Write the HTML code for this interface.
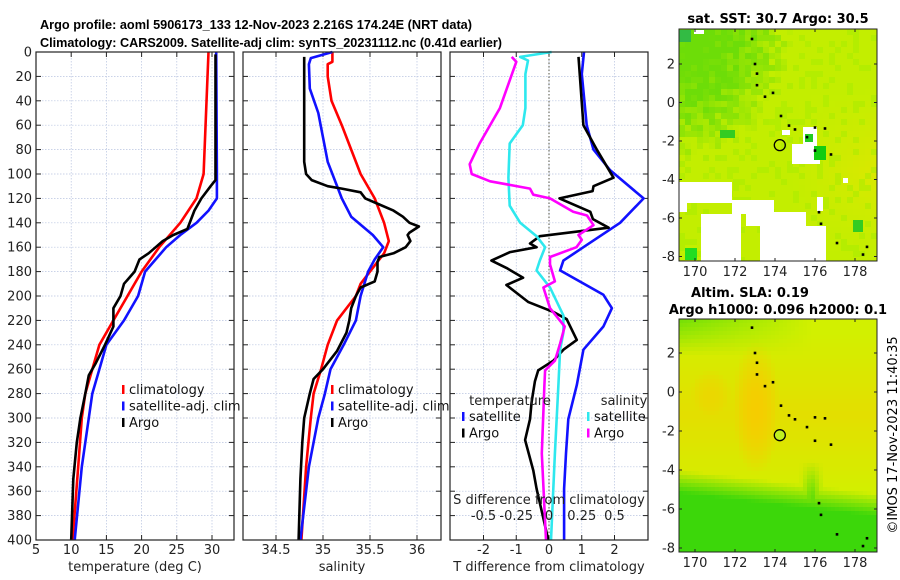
<!DOCTYPE html>
<html><head><meta charset="utf-8"><style>
body{margin:0;background:#fff;}
svg{display:block;font-family:"DejaVu Sans","Liberation Sans",sans-serif;}
</style></head><body>
<svg id="fig" width="900" height="580" viewBox="0 0 900 580" xmlns="http://www.w3.org/2000/svg">
<rect width="900" height="580" fill="#fff"/>
<text x="40" y="29" font-size="13" font-weight="bold" font-family="Liberation Sans, sans-serif" textLength="432" lengthAdjust="spacingAndGlyphs">Argo profile: aoml 5906173_133 12-Nov-2023 2.216S 174.24E (NRT data)</text>
<text x="40" y="47" font-size="13" font-weight="bold" font-family="Liberation Sans, sans-serif" textLength="462" lengthAdjust="spacingAndGlyphs">Climatology: CARS2009. Satellite-adj clim: synTS_20231112.nc (0.41d earlier)</text>
<g id="g1"></g>
<g id="g2"></g>
<g id="g3"></g>
<g id="m1"></g>
<g id="m2"></g>
<text x="778" y="23" font-size="13" font-weight="bold" text-anchor="middle">sat. SST: 30.7 Argo: 30.5</text>
<text x="750" y="297" font-size="13" font-weight="bold" text-anchor="middle">Altim. SLA: 0.19</text>
<text x="778" y="314" font-size="13" font-weight="bold" text-anchor="middle">Argo h1000: 0.096 h2000: 0.1</text>
<text transform="translate(897,435) rotate(-90)" font-size="13" text-anchor="middle">©IMOS 17-Nov-2023 11:40:35</text>
</svg>
<script>
// ---- data ----
const climTdepth=[0,100,120,140,160,180,200,220,240,260,280,300,340,400];
const climT=[29.5,28.8,27.8,25.5,22.5,20,18,16,14,13,12,11.5,11,10.2];
const satTdepth=[0,100,120,130,140,150,160,180,200,220,240,260,280,300,340,400];
const satT=[30.6,30.7,30.7,29.5,27.8,25.5,23.5,20.5,19.5,17.5,15,14,13,12.5,11.5,10.5];
const argoTdepth=[2,105,110,120,130,145,150,155,160,165,170,180,190,200,210,225,240,255,265,280,300,320,350,400];
const argoT=[30.5,30.5,29.8,28.5,27.5,26.5,24.5,23,22,21,19.7,19,17.5,17,16,16,14.8,13.5,12.5,12,11.3,10.8,10.3,10.0];

const climSdepth=[0,8,10,20,40,60,80,100,120,140,155,165,180,190,200,220,240,260,280,300,340,400];
const climS=[35.1,35.1,35.05,35.05,35.09,35.2,35.3,35.4,35.55,35.65,35.7,35.65,35.5,35.4,35.35,35.15,35.05,34.98,34.9,34.87,34.82,34.77];
const satSdepth=[0,5,10,30,50,70,90,120,135,150,160,170,180,200,220,240,260,280,300,340,400];
const satS=[35.1,34.87,34.85,34.86,34.95,35.0,35.05,35.2,35.3,35.53,35.64,35.55,35.48,35.4,35.35,35.22,35.08,35.02,34.95,34.85,34.76];
const argoSdepth=[4,20,90,100,105,110,112,115,120,125,130,135,140,143,148,150,155,160,165,168,172,180,188,193,200,210,220,230,245,260,268,280,300,320,350,400];
const argoS=[34.8,34.8,34.8,34.82,34.88,35.05,35.2,35.4,35.45,35.6,35.75,35.85,35.92,36.02,35.92,35.9,35.93,35.88,35.75,35.6,35.58,35.58,35.55,35.4,35.35,35.3,35.28,35.25,35.15,35.0,34.9,34.86,34.8,34.78,34.76,34.74];

const dTsatDepth=[0,18,60,80,97,120,140,160,171,179,199,210,225,244,273,301,329,358,400];
const dTsat=[1.07,1.0,1.15,1.36,1.87,2.89,2.17,1.05,0.44,0.34,1.66,1.92,1.66,1.05,0.85,0.59,0.52,0.46,0.46];
const dTargoDepth=[4,60,80,103,110,114,120,131,137,144,151,157,160,164,171,177,185,191,205,213,219,230,236,244,253,261,270,287,301,318,343,358,400];
const dTargo=[0.9,1.05,1.46,1.97,1.36,1.33,0.32,1.26,1.34,1.82,-0.28,-0.58,-0.38,-1.19,-1.76,-1.3,-0.79,-1.3,-0.63,0.13,0.54,0.74,0.85,0.44,0.13,-0.33,-0.43,-0.53,-0.58,-0.73,-0.48,-0.38,-0.02];
const dSsatDepth=[0,4,7,18,46,60,75,103,126,140,151,160,171,179,193,216,230,244,273,329,400];
const dSsat=[0.02,-0.22,-0.16,-0.18,-0.18,-0.2,-0.3,-0.31,-0.3,-0.22,-0.095,-0.03,-0.07,-0.095,0.008,0.11,0.11,0.085,0.072,0.045,0.015];
const dSargoDepth=[4,8,46,75,92,100,106,112,117,120,131,134,142,150,154,160,168,174,188,193,210,225,239,253,261,273,329,400];
const dSargo=[-0.285,-0.25,-0.375,-0.53,-0.605,-0.59,-0.45,-0.145,-0.12,0.008,0.185,0.29,0.34,0.225,0.25,0.21,0.008,0.008,0.045,-0.043,0.008,0.12,0.085,0.045,-0.03,-0.035,-0.055,-0.023];

const depthTicks=[0,20,40,60,80,100,120,140,160,180,200,220,240,260,280,300,320,340,360,380,400];
const tempTicks=[5,10,15,20,25,30];
const salTicks=[34.5,35,35.5,36];
const dTTicks=[-2,-1,0,1,2];
const dSTicks=[-0.5,-0.25,0,0.25,0.5];
const lonTicks=[170,172,174,176,178];
const latTicks=[2,0,-2,-4,-6,-8];
const floatLon=174.24, floatLat=-2.216;

// ---- helpers ----
const NS='http://www.w3.org/2000/svg';
function mk(parent,tag,attrs){const e=document.createElementNS(NS,tag);for(const k in attrs)e.setAttribute(k,attrs[k]);parent.appendChild(e);return e;}
const Y0=52,Y1=540;
const yD=d=>Y0+(d/400)*(Y1-Y0);
function lin(d0,d1,r0,r1){return v=>r0+(v-d0)/(d1-d0)*(r1-r0);}
const cl=(v,a,b)=>Math.max(a,Math.min(b,v));

function panel(g,x0,x1,xs,ticks,fmt,showDepth){
  mk(g,'rect',{x:x0,y:Y0,width:x1-x0,height:Y1-Y0,fill:'#fff'});
  for(const d of depthTicks){const l=mk(g,'line',{x1:x0,x2:x1,y1:yD(d),y2:yD(d),stroke:'#b8c4e0','stroke-width':0.7,'stroke-dasharray':'1.5,1.5'});
    
    mk(g,'line',{x1:x0,x2:x0+5,y1:yD(d),y2:yD(d),stroke:'#222'});mk(g,'line',{x1:x1-5,x2:x1,y1:yD(d),y2:yD(d),stroke:'#222'});
    if(showDepth){const t=mk(g,'text',{x:x0-4,y:yD(d)+4.5,'font-size':13,'text-anchor':'end',fill:'#222'});t.textContent=d;
      }}
  for(const v of ticks){const x=xs(v);
    const l=mk(g,'line',{x1:x,x2:x,y1:Y0,y2:Y1,stroke:'#b8c4e0','stroke-width':0.7,'stroke-dasharray':'1.5,1.5'});
    
    mk(g,'line',{x1:x,x2:x,y1:Y1,y2:Y1-5,stroke:'#222'});mk(g,'line',{x1:x,x2:x,y1:Y0,y2:Y0+5,stroke:'#222'});
    const t=mk(g,'text',{x:x,y:554,'font-size':13,'text-anchor':'middle',fill:'#222'});t.textContent=fmt(v);
    }
}
function frame(g,x0,x1){mk(g,'rect',{x:x0,y:Y0,width:x1-x0,height:Y1-Y0,fill:'none',stroke:'#222','stroke-width':1.2});}
function series(g,xs,depths,vals,color,name){
  const pts=depths.map((d,i)=>xs(vals[i]).toFixed(1)+','+yD(d).toFixed(1)).join(' ');
  const p=mk(g,'polyline',{points:pts,fill:'none',stroke:color,'stroke-width':2.6,'stroke-linejoin':'round'});
  }
function legend(g,x,y,items){items.forEach((it,i)=>{const yy=y+i*16.5;
  mk(g,'rect',{x:x,y:yy-9,width:2.5,height:9,fill:it[1]});
  const t=mk(g,'text',{x:x+7,y:yy,'font-size':13,fill:'#111'});t.textContent=it[0];
  });}
function label(g,x,y,s,name){const t=mk(g,'text',{x:x,y:y,'font-size':13,'text-anchor':'middle',fill:'#222'});t.textContent=s;
  }

// ---- panel 1: temperature ----
const g1=document.getElementById('g1');
const xT=lin(5,30,36,212);
panel(g1,36,234,xT,tempTicks,v=>v,true);
series(g1,xT,climTdepth,climT,'#f00','climatology-temp-line');
series(g1,xT,satTdepth,satT,'#11f','satellite-temp-line');
series(g1,xT,argoTdepth,argoT,'#000','argo-temp-line');
frame(g1,36,234);
legend(g1,122,394,[['climatology','#f00'],['satellite-adj. clim','#11f'],['Argo','#000']]);
label(g1,135,571,'temperature (deg C)','x-axis-title-temperature');

// ---- panel 2: salinity ----
const g2=document.getElementById('g2');
const xS=lin(34.5,36,276,417);
panel(g2,243,441,xS,salTicks,v=>v,false);
series(g2,xS,climSdepth,climS,'#f00','climatology-salinity-line');
series(g2,xS,satSdepth,satS,'#11f','satellite-salinity-line');
series(g2,xS,argoSdepth,argoS,'#000','argo-salinity-line');
frame(g2,243,441);
legend(g2,331,394,[['climatology','#f00'],['satellite-adj. clim','#11f'],['Argo','#000']]);
label(g2,342,571,'salinity','x-axis-title-salinity');

// ---- panel 3: differences ----
const g3=document.getElementById('g3');
const xD=lin(0,2,549,614.5);
const xDS=v=>xD(v*4);
panel(g3,450,648,xD,dTTicks,v=>v,false);
const zl=mk(g3,'line',{x1:xD(0),x2:xD(0),y1:Y0,y2:Y1,stroke:'#554','stroke-width':1,'stroke-dasharray':'1.5,2'});

series(g3,xD,dTsatDepth,dTsat,'#11f','satellite-temp-diff-line');
series(g3,xD,dTargoDepth,dTargo,'#000','argo-temp-diff-line');
series(g3,xDS,dSsatDepth,dSsat,'#2ee8ee','satellite-salinity-diff-line');
series(g3,xDS,dSargoDepth,dSargo,'#f0f','argo-salinity-diff-line');
frame(g3,450,648);
label(g3,510,405,'temperature','legend-title-temperature');
label(g3,624,405,'salinity','legend-title-salinity');
legend(g3,462,421,[['satellite','#11f'],['Argo','#000']]);
legend(g3,587,421,[['satellite','#2ee8ee'],['Argo','#f0f']]);
label(g3,549,504,'S difference from climatology','s-diff-axis-title');
dSTicks.forEach(v=>label(g3,xDS(v),520,String(v),'s-diff-tick-label'));
label(g3,549,571,'T difference from climatology','x-axis-title-tdiff');

// ---- maps ----
function hash(a,b){let h=(a*374761393+b*668265263)>>>0;h=((h^(h>>>13))*1274126177)>>>0;return ((h^(h>>>16))&1023)/1023;}
function mix(c1,c2,t){return c1.map((v,i)=>Math.round(v+(c2[i]-v)*t));}
function map(g,y0,y1,latY,kind){
  const x0=679,x1=877;
  const lonX=lin(170,178,695,855);
  const clip=mk(g,'clipPath',{id:'c'+kind});mk(clip,'rect',{x:x0,y:y0,width:x1-x0,height:y1-y0});
  const inner=mk(g,'g',{'clip-path':'url(#c'+kind+')'});
  const cell=kind==='sst'?6:4;
  for(let x=x0,i=0;x<x1;x+=cell,i++)for(let y=y0,j=0;y<y1;y+=cell,j++){
    const u=(x-x0)/(x1-x0),v=(y-y0)/(y1-y0);let c;
    if(kind==='sst'){
      const n=hash(i,j);
      let gz=1-((u/0.55)**2+(v/0.55)**2);
      gz=cl(gz*1.2+(n-0.5)*0.6,0,1);
      const oz=cl((u-0.55)*2,0,1)*cl(1-Math.abs(v-0.6)/0.35,0,1);
      let col=mix([195,238,0],[228,230,0],oz*0.8);
      col=mix(col,[80,215,10],gz*0.75);
      col=mix(col,[165,235,0],(n>0.8&&gz<0.2)?0.5:0);
      c=`rgb(${col[0]},${col[1]},${col[2]})`;
    }else{
      const dx=(u-0.38)/0.15,dy=(v-0.38)/0.3;
      const o=cl(1-(dx*dx+dy*dy),0,1);
      const dx2=(u-0.15)/0.15,dy2=(v-0.33)/0.15;
      const o2=cl(1-(dx2*dx2+dy2*dy2),0,1)*0.7;
      const broad=cl(1-Math.abs(v-0.4)/0.35,0,1)*0.5;
      const vb=0.64+0.1*u;
      let gr=cl((v-vb)/0.1,0,1);
      const tongue=cl(1-Math.abs(u-0.66)/0.06,0,1)*cl((v-0.6)/0.15,0,1);
      gr=Math.max(gr,tongue*0.8);
      const topg=cl((0.15-v)/0.15,0,1)*cl(1-u*1.5,0,1)*0.6;
      let col=[210,240,0];
      col=mix(col,[245,205,0],Math.max(o,o2,broad));
      col=mix(col,[60,215,10],Math.max(gr,topg));
      c=`rgb(${col[0]},${col[1]},${col[2]})`;
    }
    mk(inner,'rect',{x:x,y:y,width:cell,height:cell,fill:c});
  }
  if(kind==='sst'){
    const wp=[[679,182,53,21],[679,200,8,12],[732,200,42,14],[746,212,60,14],[760,226,66,35],[701,214,40,47],[792,144,22,20],[803,127,14,20],[814,154,6,10],[782,130,8,5],[843,178,5,5],[817,197,6,14],[716,185,3,6],[694,30,10,4]];
    wp.forEach(r=>{const e=mk(inner,'rect',{x:r[0],y:r[1],width:r[2],height:r[3],fill:'#fff'});
      });
    [[679,30,12,12,'#33bb44'],[814,146,12,14,'#11cc11'],[805,134,8,8,'#22cc22'],[685,248,12,12,'#22dd22'],[853,220,10,12,'#33cc22'],[720,130,15,8,'#33cc22']]
      .forEach(r=>mk(inner,'rect',{x:r[0],y:r[1],width:r[2],height:r[3],fill:r[4]}));
  }
  [[172.85,3.3],[173.0,2.0],[173.1,1.5],[173.1,0.9],[173.5,0.3],[173.9,0.5],[174.3,-0.7],[174.7,-1.2],[175.0,-1.4],[175.6,-1.8],[176.0,-1.3],[176.5,-1.35],[176.0,-2.5],[176.8,-2.7],[176.2,-5.7],[176.3,-6.3],[177.1,-7.3],[178.4,-7.9],[178.6,-7.5]]
    .forEach(p=>{const e=mk(inner,'rect',{x:lonX(p[0])-1.3,y:latY(p[1])-1.3,width:2.6,height:2.6,fill:'#000'});
      });
  const ci=mk(g,'circle',{cx:lonX(floatLon),cy:latY(floatLat),r:5.5,fill:kind==='sla'?'#c0f020':'none',stroke:'#000','stroke-width':1.3});
  
  mk(g,'rect',{x:x0,y:y0,width:x1-x0,height:y1-y0,fill:'none',stroke:'#222','stroke-width':1});
  lonTicks.forEach(l=>{const x=lonX(l);mk(g,'line',{x1:x,x2:x,y1:y1,y2:y1-3,stroke:'#222'});mk(g,'line',{x1:x,x2:x,y1:y0,y2:y0+3,stroke:'#222'});
    const t=mk(g,'text',{x:x,y:y1+15,'font-size':13,'text-anchor':'middle',fill:'#222'});t.textContent=l;
    });
  latTicks.forEach(l=>{const y=latY(l);mk(g,'line',{x1:x0,x2:x0+3,y1:y,y2:y,stroke:'#222'});mk(g,'line',{x1:x1-3,x2:x1,y1:y,y2:y,stroke:'#222'});
    const t=mk(g,'text',{x:x0-4,y:y+4.5,'font-size':13,'text-anchor':'end',fill:'#222'});t.textContent=l;
    });
}
map(document.getElementById('m1'),29,261,lin(0,2,102.5,64),'sst');
map(document.getElementById('m2'),319,552,lin(0,2,392,353),'sla');
</script>
</body></html>
